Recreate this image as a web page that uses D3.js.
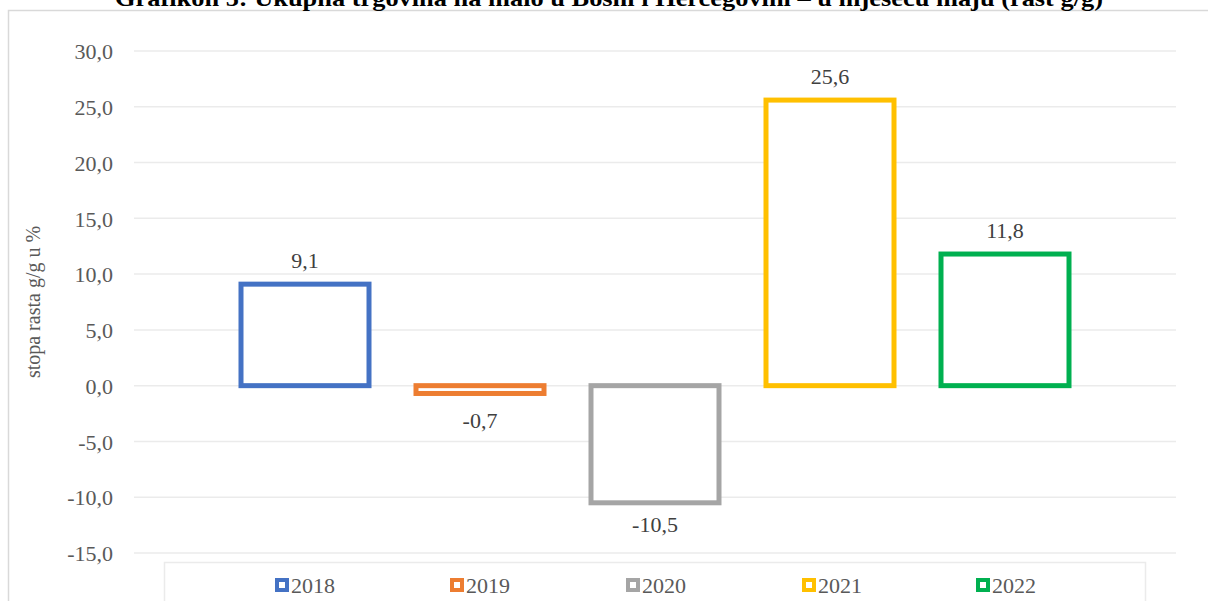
<!DOCTYPE html>
<html><head><meta charset="utf-8">
<script src="https://cdn.jsdelivr.net/npm/d3@7"></script>
<style>body{margin:0;background:#fff;}svg{display:block;}</style>
</head><body>
<svg id="c" width="1208" height="601"></svg>
<script>
const years = ["2018","2019","2020","2021","2022"];
const values = [9.1, -0.7, -10.5, 25.6, 11.8];
const colors = ["#4472C4","#ED7D31","#A5A5A5","#FFC000","#00B050"];
const yTicks = [30,25,20,15,10,5,0,-5,-10,-15];
const title = "Grafikon 5: Ukupna trgovina na malo u Bosni i Hercegovini – u mjesecu maju (rast g/g)";
const yTitle = "stopa rasta g/g u %";

const svg = d3.select("#c");
const fmt = v => d3.format(".1f")(v).replace(".", ",").replace("−","-");
const font = "'Liberation Serif','Times New Roman',serif";

// chart border
svg.append("rect").attr("x",8.5).attr("y",10.5).attr("width",1300).attr("height",700)
  .attr("fill","none").attr("stroke","#d9d9d9").attr("stroke-width",1.5);

svg.append("text").attr("x",609).attr("y",6).attr("text-anchor","middle")
  .attr("font-family",font).attr("font-weight","bold").attr("font-size",23).attr("fill","#000")
  .attr("textLength",988).attr("lengthAdjust","spacingAndGlyphs")
  .text(title);

const y = d3.scaleLinear().domain([-15,30]).range([553,51]);
const x = d3.scaleBand().domain(years).range([217.5,1092.5]).paddingInner(0.24).paddingOuter(0.12);

// gridlines
svg.append("g").selectAll("line").data(yTicks).join("line")
  .attr("x1",134).attr("x2",1176).attr("y1",d=>y(d)).attr("y2",d=>y(d))
  .attr("stroke","#ebebeb").attr("stroke-width",1.5);

// y axis labels
const yAxis = d3.axisLeft(y).tickValues(yTicks).tickFormat(fmt).tickSize(0).tickPadding(0);
const ga = svg.append("g").attr("transform","translate(113,0)").call(yAxis);
ga.select(".domain").remove();
ga.selectAll("text").attr("font-family",font).attr("font-size",22).attr("fill","#595959").attr("dy","0.35em");

svg.append("text").attr("transform","translate(40,302) rotate(-90)").attr("text-anchor","middle")
  .attr("font-family",font).attr("font-size",20).attr("fill","#595959").text(yTitle);

// bars
const sw = 5;
svg.append("g").selectAll("rect").data(years).join("rect")
  .attr("x",d=>x(d)+sw/2).attr("width",x.bandwidth()-sw)
  .attr("y",(d,i)=>Math.min(y(values[i]),y(0)))
  .attr("height",(d,i)=>Math.abs(y(values[i])-y(0)))
  .attr("fill","#fff").attr("stroke",(d,i)=>colors[i]).attr("stroke-width",sw);

// labels (centered vertically via dy)
svg.append("g").selectAll("text").data(years).join("text")
  .attr("x",d=>x(d)+x.bandwidth()/2)
  .attr("y",(d,i)=>values[i]>=0 ? y(values[i])-24 : Math.max(y(values[i])+21, y(0)+35))
  .attr("dy","0.35em")
  .attr("text-anchor","middle").attr("font-family",font).attr("font-size",22).attr("fill","#404040")
  .text((d,i)=>fmt(values[i]));

// legend
svg.append("rect").attr("x",164.5).attr("y",562.5).attr("width",981).attr("height",60)
  .attr("fill","none").attr("stroke","#ebebeb").attr("stroke-width",1.5);
const legX = [275,450,626,802,976];
const lg = svg.append("g").selectAll("g").data(years).join("g")
  .attr("transform",(d,i)=>`translate(${legX[i]},585)`);
lg.append("rect").attr("x",2).attr("y",-5).attr("width",10).attr("height",10)
  .attr("fill","#fff").attr("stroke",(d,i)=>colors[i]).attr("stroke-width",4);
lg.append("text").attr("x",16).attr("y",0).attr("dy","0.35em").attr("font-family",font)
  .attr("font-size",22).attr("fill","#595959").text(d=>d);
</script>
</body></html>
